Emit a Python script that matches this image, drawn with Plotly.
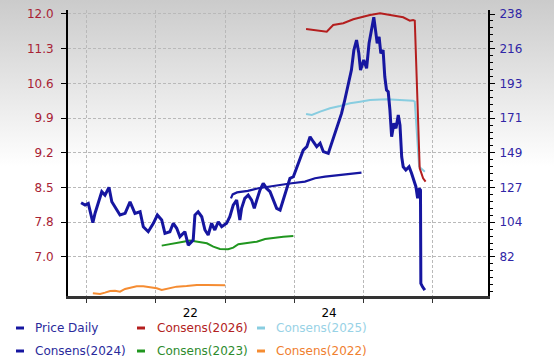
import base64
import plotly.graph_objects as go

# ---------------- data ----------------
price_dates = [
    "2020-12-03", "2020-12-24", "2021-01-10", "2021-02-03", "2021-02-15", "2021-03-04", "2021-03-22",
    "2021-04-08", "2021-04-29", "2021-05-14", "2021-05-31", "2021-06-26", "2021-07-23", "2021-08-18",
    "2021-09-13", "2021-10-10", "2021-10-27", "2021-11-22", "2021-12-19", "2022-01-09", "2022-02-01",
    "2022-02-18", "2022-03-16", "2022-04-03", "2022-04-21", "2022-05-08", "2022-06-03", "2022-06-21",
    "2022-07-17", "2022-07-26", "2022-08-12", "2022-08-31", "2022-09-17", "2022-10-04", "2022-10-22",
    "2022-11-08", "2022-11-26", "2022-12-14", "2023-01-09", "2023-01-26", "2023-02-13", "2023-03-03",
    "2023-03-20", "2023-03-29", "2023-04-15", "2023-05-03", "2023-05-21", "2023-06-04", "2023-06-17",
    "2023-07-04", "2023-07-21", "2023-08-08", "2023-08-26", "2023-09-12", "2023-09-30", "2023-10-18",
    "2023-11-04", "2023-11-22", "2023-12-09", "2023-12-27", "2024-01-13", "2024-01-31", "2024-02-17",
    "2024-03-07", "2024-03-24", "2024-04-10", "2024-04-28", "2024-05-16", "2024-06-02", "2024-06-28",
    "2024-07-16", "2024-08-02", "2024-08-19", "2024-09-06", "2024-09-23", "2024-10-11", "2024-10-28",
    "2024-11-10", "2024-11-24", "2024-12-06", "2024-12-15", "2025-01-01", "2025-01-16", "2025-01-29",
    "2025-02-11", "2025-02-23", "2025-03-04", "2025-03-13", "2025-03-23", "2025-04-01", "2025-04-13",
    "2025-04-22", "2025-05-01", "2025-05-10", "2025-05-19", "2025-05-28", "2025-06-09", "2025-06-20",
    "2025-07-02", "2025-07-11", "2025-07-20", "2025-07-28", "2025-08-11", "2025-08-28", "2025-09-10",
    "2025-09-22", "2025-10-03", "2025-10-12", "2025-10-20", "2025-10-27", "2025-10-29", "2025-11-07",
    "2025-11-19",
]
price_values = [
    116.8, 115.3, 116.4, 104.0, 110.2, 117.4, 123.9,
    121.7, 126.7, 117.4, 114.2, 108.9, 110.0, 117.4,
    110.0, 111.0, 101.4, 98.2, 103.6, 108.9, 105.7,
    97.1, 98.2, 103.6, 100.4, 95.0, 98.2, 89.6,
    92.8, 108.9, 111.0, 107.8, 99.3, 96.1, 103.6,
    99.3, 104.6, 101.4, 103.6, 107.8, 115.3, 118.5,
    105.7, 113.2, 119.6, 121.7, 118.5, 113.2, 118.5,
    125.0, 129.3, 126.0, 123.9, 118.5, 113.2, 112.1,
    118.5, 126.0, 132.5, 133.5, 138.9, 145.3, 150.6,
    152.8, 159.2, 156.0, 152.8, 155.0, 149.6, 148.5,
    155.0, 161.4, 167.8, 174.2, 182.8, 192.4, 202.0,
    214.9, 221.3, 212.8, 202.0, 208.5, 203.1, 219.2,
    227.7, 235.9, 227.7, 219.2, 223.4, 212.8, 214.9,
    197.7, 189.2, 188.1, 176.3, 159.2, 167.8, 164.6,
    173.1, 166.7, 146.3, 139.9, 137.8, 139.9, 135.7,
    131.4, 127.1, 119.6, 126.0, 125.0, 65.0, 62.8,
    60.7,
]

c2026_dates = ["2024-03-03", "2024-04-10", "2024-06-20", "2024-07-24", "2024-09-15", "2024-11-07",
               "2024-12-30", "2025-02-03", "2025-03-28", "2025-05-20", "2025-07-28", "2025-09-01",
               "2025-09-18", "2025-09-27", "2025-10-23", "2025-11-10", "2025-11-23"]
c2026_values = [11.697, 11.677, 11.643, 11.778, 11.812, 11.893,
                11.946, 11.980, 12.014, 11.980, 11.933, 11.865,
                11.879, 11.865, 8.887, 8.686, 8.617]

c2025_dates = ["2024-03-03", "2024-04-02", "2024-05-16", "2024-07-07", "2024-08-29", "2024-10-20",
               "2024-12-13", "2025-02-03", "2025-05-01", "2025-07-28", "2025-09-18", "2025-09-27",
               "2025-10-20", "2025-11-19"]
c2025_values = [9.983, 9.962, 10.029, 10.098, 10.144, 10.199,
                10.231, 10.265, 10.279, 10.265, 10.251, 10.231,
                8.920, 8.819]

c2024_dates = ["2023-02-01", "2023-02-10", "2023-03-05", "2023-05-01", "2023-06-25", "2023-08-17",
               "2023-10-09", "2023-12-18", "2024-02-26", "2024-04-19", "2024-06-11", "2024-08-02",
               "2024-10-11", "2024-12-20"]
c2024_values = [8.28, 8.36, 8.40, 8.43, 8.484, 8.516,
                8.550, 8.585, 8.617, 8.685, 8.718, 8.738,
                8.772, 8.798]

c2023_dates = ["2022-02-01", "2022-04-03", "2022-05-26", "2022-06-30", "2022-08-05", "2022-09-27",
               "2022-10-31", "2022-12-05", "2023-01-17", "2023-02-13", "2023-03-12", "2023-04-25",
               "2023-06-17", "2023-07-31", "2023-09-13", "2023-11-04", "2023-12-27"]
c2023_values = [7.326, 7.374, 7.406, 7.427, 7.406, 7.374,
                7.306, 7.259, 7.253, 7.285, 7.354, 7.374,
                7.406, 7.461, 7.487, 7.507, 7.521]

c2022_dates = ["2021-02-03", "2021-03-13", "2021-04-08", "2021-05-05", "2021-05-31", "2021-06-26",
               "2021-07-23", "2021-08-18", "2021-09-22", "2021-10-27", "2021-12-01", "2022-01-06",
               "2022-02-01", "2022-03-08", "2022-04-21", "2022-06-12", "2022-08-05", "2022-09-27",
               "2022-11-18", "2023-01-01"]
c2022_values = [6.365, 6.351, 6.378, 6.412, 6.418, 6.398,
                6.452, 6.479, 6.507, 6.507, 6.493, 6.466,
                6.432, 6.466, 6.499, 6.513, 6.533, 6.533,
                6.527, 6.527]

left_tickvals = [12.0, 11.3, 10.6, 9.9, 9.2, 8.5, 7.8, 7.1]
left_ticktext = ["12.0", "11.3", "10.6", "9.9", "9.2", "8.5", "7.8", "7.0"]
right_tickvals = [238, 215.71, 193.43, 171.14, 148.86, 126.57, 104.29, 82]
right_ticktext = ["238", "216", "193", "171", "149", "127", "104", "82"]
year_lines = ["2021-01-01", "2022-01-01", "2023-01-01", "2024-01-01", "2025-01-01", "2026-01-01"]
year_label_pos = ["2021-07-02", "2022-07-02", "2023-07-02", "2024-07-02", "2025-07-02"]
year_label_text = ["", "22", "", "24", ""]

# ---------------- styling ----------------
FONT = "DejaVu Sans"
C_PRICE = "#1616a0"
C_2026 = "#b41e1e"
C_2025 = "#88cde0"
C_2024 = "#1616a0"
C_2023 = "#20961f"
C_2022 = "#f58c32"

fig = go.Figure()
fig.add_trace(go.Scatter(x=c2022_dates, y=c2022_values, mode="lines", name="Consens(2022)",
                         line=dict(color=C_2022, width=2), yaxis="y"))
fig.add_trace(go.Scatter(x=c2023_dates, y=c2023_values, mode="lines", name="Consens(2023)",
                         line=dict(color=C_2023, width=2), yaxis="y"))
fig.add_trace(go.Scatter(x=c2024_dates, y=c2024_values, mode="lines", name="Consens(2024)",
                         line=dict(color=C_2024, width=2.2), yaxis="y"))
fig.add_trace(go.Scatter(x=c2025_dates, y=c2025_values, mode="lines", name="Consens(2025)",
                         line=dict(color=C_2025, width=2), yaxis="y"))
fig.add_trace(go.Scatter(x=c2026_dates, y=c2026_values, mode="lines", name="Consens(2026)",
                         line=dict(color=C_2026, width=2), yaxis="y"))
fig.add_trace(go.Scatter(x=price_dates, y=price_values, mode="lines", name="Price Daily",
                         line=dict(color=C_PRICE, width=3), yaxis="y2"))

# gradient background (SVG image)
svg = ('<svg xmlns="http://www.w3.org/2000/svg" width="554" height="362" viewBox="0 0 554 362" '
       'preserveAspectRatio="none"><defs><linearGradient id="g" x1="0" y1="0" x2="0" y2="1">'
       '<stop offset="0" stop-color="#cbcbcb"/><stop offset="0.46" stop-color="#ffffff"/>'
       '<stop offset="1" stop-color="#ffffff"/></linearGradient></defs>'
       '<rect width="554" height="362" fill="url(#g)"/></svg>')
src = "data:image/svg+xml;base64," + base64.b64encode(svg.encode()).decode()

L, R, T, B = 68, 66, 10, 66
PW, PH = 554 - L - R, 362 - T - B

def px(xp):
    return (xp - L) / PW

def py(yp):
    return (T + PH - yp) / PH

grid = dict(gridcolor="#b9b9b9", griddash="3px,2px", gridwidth=1)

fig.update_layout(
    width=554, height=362,
    margin=dict(l=L, r=R, t=T, b=B, pad=0, autoexpand=False),
    paper_bgcolor="white",
    plot_bgcolor="rgba(0,0,0,0)",
    showlegend=False,
    font=dict(family=FONT, size=12, color="black"),
    images=[dict(source=src, xref="paper", yref="paper", x=-L / PW, y=1 + T / PH,
                 sizex=554 / PW, sizey=362 / PH, sizing="stretch",
                 xanchor="left", yanchor="top", layer="below")],
    xaxis=dict(
        type="date", range=["2020-09-25", "2026-10-18"], automargin=False,
        tickmode="array", tickvals=year_label_pos, ticktext=year_label_text,
        ticks="", showgrid=False, zeroline=False,
        showline=True, linecolor="#333333", linewidth=3,
        tickfont=dict(size=12, color="black"), ticklabelstandoff=4,
        minor=dict(tickmode="array", tickvals=year_lines, ticks="outside", ticklen=4,
                   tickcolor="#333333", showgrid=True, **grid),
    ),
    yaxis=dict(
        range=[6.31, 12.08], automargin=False,
        tickmode="array", tickvals=left_tickvals, ticktext=left_ticktext,
        ticks="outside", ticklen=5, tickcolor="black", tickwidth=1,
        showline=True, linecolor="black", linewidth=2,
        showgrid=True, zeroline=False, **grid,
        tickfont=dict(size=12, color="#a82234"), ticklabelstandoff=5,
    ),
    yaxis2=dict(
        range=[56.9, 240.6], overlaying="y", side="right", automargin=False,
        tickmode="array", tickvals=right_tickvals, ticktext=right_ticktext,
        ticks="outside", ticklen=5, tickcolor="black", tickwidth=1,
        showline=True, linecolor="black", linewidth=2,
        showgrid=False, zeroline=False,
        tickfont=dict(size=12, color="#3026a6"), ticklabelstandoff=2,
        minor=dict(tickmode="linear", tick0=82, dtick=156 / 35, ticks="outside", ticklen=3,
                   tickcolor="black", showgrid=False),
    ),
)

# legend (two rows, three columns) drawn as text + short dashes
legend_items = [
    ("Price Daily", C_PRICE, "#2a2a9c", 16, 33, 328),
    ("Consens(2026)", C_2026, "#b22222", 137, 155, 328),
    ("Consens(2025)", C_2025, "#98d2e6", 257, 274, 328),
    ("Consens(2024)", C_2024, "#2a2a9c", 16, 33, 351),
    ("Consens(2023)", C_2023, "#2e8b2e", 137, 155, 351),
    ("Consens(2022)", C_2022, "#f08030", 257, 274, 351),
]
for text, lc, tc, mx, tx, ty in legend_items:
    fig.add_shape(type="line", xref="paper", yref="paper",
                  x0=px(mx), x1=px(mx + 8), y0=py(ty), y1=py(ty),
                  line=dict(color=lc, width=3))
    fig.add_annotation(xref="paper", yref="paper", x=px(tx), y=py(ty), text=text,
                       showarrow=False, xanchor="left", yanchor="middle",
                       font=dict(family=FONT, size=12, color=tc))

fig.write_html(
    "out.html",
    config={"displayModeBar": False},
    post_script="document.body.style.margin='0';document.body.style.overflow='hidden';",
)
